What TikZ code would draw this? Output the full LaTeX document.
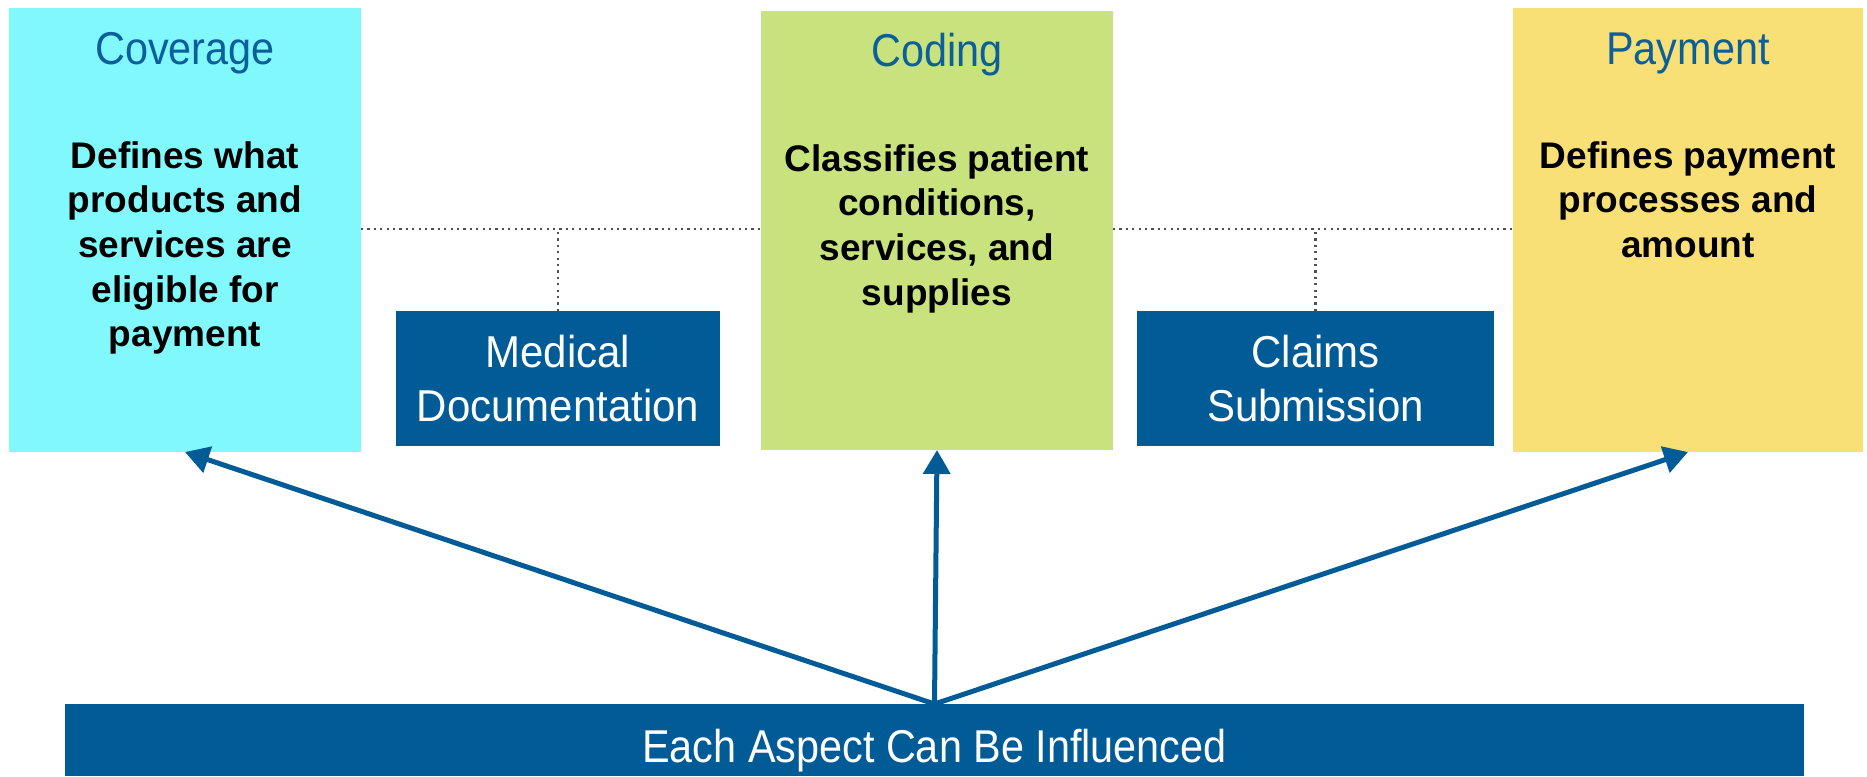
\documentclass[tikz,border=0pt]{standalone}
\usepackage{fontspec}
\setmainfont{Liberation Sans}
\newfontfamily\narrowsans[FakeStretch=0.9]{Liberation Sans}
\newfontfamily\stepsans[FakeStretch=0.94]{Liberation Sans}
\usetikzlibrary{arrows.meta}

\definecolor{covcyan}{HTML}{80F8FC}
\definecolor{codgreen}{HTML}{C8E27E}
\definecolor{payyellow}{HTML}{F8E077}
\definecolor{navy}{HTML}{005B96}
\definecolor{headblue}{HTML}{0D5F9C}
\definecolor{dotgray}{HTML}{505050}

\tikzset{
  panel/.style={inner sep=0pt, outer sep=0pt},
  bluebox/.style={panel, fill=navy, text=white, align=center, font=\stepsans\fontsize{33.5}{41}\selectfont},
  heading/.style={anchor=base, inner sep=0pt, text=headblue, font=\narrowsans\fontsize{34.5}{40}\selectfont},
  blurb/.style={anchor=north, inner sep=0pt, align=center, font=\bfseries\fontsize{27.75}{33.5}\selectfont},
  tie/.style={draw=dotgray, line width=1.6pt, dash pattern=on 1.6pt off 3.2pt},
  push/.style={draw=navy, line width=3.75pt, -{Triangle[length=18pt,width=20pt]}}
}

\begin{document}
\begin{tikzpicture}[x=0.75pt,y=0.75pt,yscale=-1,xscale=1]
\useasboundingbox (0,0) rectangle (1867,776);

%Shape: the three aspect panels
\node (cov) [panel, fill=covcyan, minimum width=264pt, minimum height=333pt] at (185,230) {};
\node (cod) [panel, fill=codgreen, minimum width=264pt, minimum height=329.25pt] at (937,230.5) {};
\node (pay) [panel, fill=payyellow, minimum width=262.5pt, minimum height=333pt] at (1688,230) {};

%Shape: the two steps in between
\node (meddoc) [bluebox, minimum width=243pt, minimum height=101.25pt] at (558,378.5) {Medical\\Documentation};
\node (claims) [bluebox, minimum width=267.75pt, minimum height=101.25pt] at (1315.5,378.5) {Claims\\Submission};

%Shape: bottom bar
\node (aspect) [panel, fill=navy, minimum width=1304.25pt, minimum height=54pt] at (934.5,740) {};
\node (aspecttxt) [anchor=base, inner sep=0pt, text=white, font=\narrowsans\fontsize{34.5}{40}\selectfont] at (934.5,762) {Each Aspect Can Be Influenced};

% Text Node
\node (covhead) [heading] at (185,64) {Coverage};
\node (codhead) [heading] at (937,66) {Coding};
\node (payhead) [heading] at (1688,64) {Payment};

% Text Node
\node (covtxt) [blurb] at (185,141) {Defines what\\products and\\services are\\eligible for\\payment};
\node (codtxt) [blurb] at (937,144) {Classifies patient\\conditions,\\services, and\\supplies};
\node (paytxt) [blurb] at (1688,141) {Defines payment\\processes and\\amount};

%Dotted ties
\coordinate (tieL) at (560,229);
\coordinate (tieR) at (1320,229);
\draw [tie] (cov.east |- tieL) -- (cod.west |- tieL);
\draw [tie] (cod.east |- tieR) -- (pay.west |- tieR);
\draw [tie] (meddoc.north) -- (meddoc.north |- tieL);
\draw [tie] (claims.north) -- (claims.north |- tieR);

%Arrows up from the bar
\draw [push] (aspect.north) -- (cov.south);
\draw [push] (aspect.north) -- (cod.south);
\draw [push] (aspect.north) -- (pay.south);
\end{tikzpicture}
\end{document}
